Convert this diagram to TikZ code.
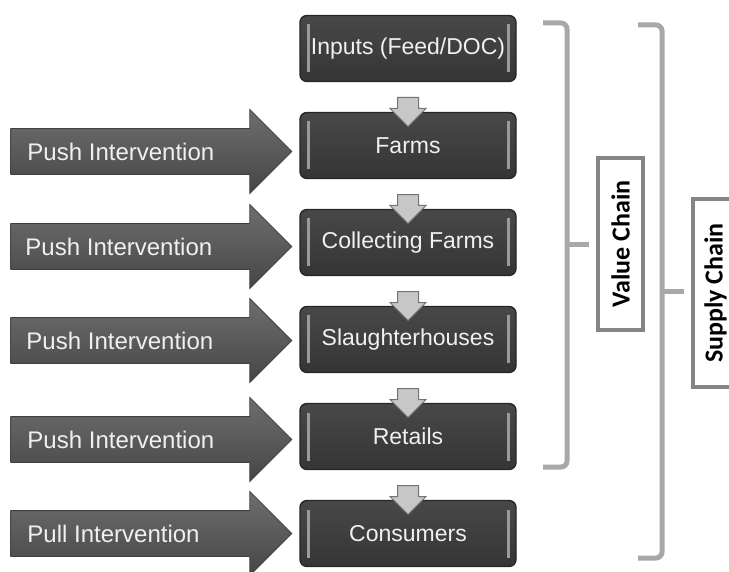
\documentclass[tikz,border=0pt]{standalone}
\usepackage{fontspec}
\setmainfont{Liberation Sans}
\newfontfamily\chainfont{Carlito}
\usepackage{tikz}
\usetikzlibrary{arrows}
\usetikzlibrary{positioning}
\usetikzlibrary{shapes.arrows}
\definecolor{boxtop}{HTML}{484848}
\definecolor{boxbottom}{HTML}{353535}
\definecolor{bargray}{HTML}{9A9A9A}
\definecolor{arrowtop}{HTML}{6E6E6E}
\definecolor{arrowbottom}{HTML}{464646}
\definecolor{bracegray}{HTML}{A8A8A8}
\definecolor{framegray}{HTML}{858585}
\tikzstyle{every node}+=[inner sep=0pt]
\tikzstyle{block} = [rectangle, draw=black!85, line width=1.4pt, rounded corners=7pt, top color=boxtop, bottom color=boxbottom, text=white!94!black, font=\fontsize{23}{26}\selectfont, minimum width=216pt, minimum height=66pt, node distance=97pt,
  path picture={
    \draw[bargray, line width=3pt] ([xshift=8pt,yshift=-9pt]path picture bounding box.north west) -- ([xshift=8pt,yshift=9pt]path picture bounding box.south west);
    \draw[bargray, line width=3pt] ([xshift=-8pt,yshift=-9pt]path picture bounding box.north east) -- ([xshift=-8pt,yshift=9pt]path picture bounding box.south east);
  }]
\tikzstyle{push} = [single arrow, draw=black!75, line width=0.8pt, top color=arrowtop, bottom color=arrowbottom, minimum height=281pt, inner xsep=0pt, inner ysep=22.5pt, single arrow head extend=19pt, node distance=7pt]
\tikzstyle{pushtext} = [anchor=west, text=white!94!black, font=\fontsize{24}{28}\selectfont]
\tikzstyle{flow} = [single arrow, rotate=-90, draw=black!55, line width=1pt, fill=black!22, minimum height=29pt, inner xsep=0pt, inner ysep=10pt, single arrow head extend=7.5pt]
\tikzstyle{chain} = [rectangle, draw=framegray, line width=4pt, fill=white, rotate=90, minimum height=45pt, font=\chainfont\bfseries\fontsize{26}{30}\selectfont]
\tikzstyle{bracket} = [draw=bracegray, line width=5pt, rounded corners=6pt]

\begin{document}
\begin{tikzpicture}[auto]
            \useasboundingbox (0pt,0pt) rectangle (729pt,-572pt);
            % Place nodes
            \node [block] at (408pt,-48.5pt) (n0) {Inputs (Feed/DOC)};
            \node [block, below of=n0] (n1) {Farms};
            \node [block, below of=n1] (n2) {Collecting Farms};
            \node [block, below of=n2] (n3) {Slaughterhouses};
            \node [block, below of=n3] (n4) {Retails};
            \node [block, below of=n4] (n5) {Consumers};
            % Interventions
            \node [push, left=of n1, yshift=-6pt] (p1) {};
            \node [pushtext, right=17pt of p1.west] (t1) {Push Intervention};
            \node [push, left=of n2, yshift=-4pt] (p2) {};
            \node [pushtext, right=15pt of p2.west] (t2) {Push Intervention};
            \node [push, left=of n3, yshift=-1pt] (p3) {};
            \node [pushtext, right=16pt of p3.west] (t3) {Push Intervention};
            \node [push, left=of n4, yshift=-3pt] (p4) {};
            \node [pushtext, right=17pt of p4.west] (t4) {Push Intervention};
            \node [push, left=of n5] (p5) {};
            \node [pushtext, right=17pt of p5.west] (t5) {Pull Intervention};
            % Chain labels
            \node [chain, minimum width=172pt] at (620.5pt,-244pt) (vc) {Value Chain};
            \node [chain, minimum width=188pt] at (715.5pt,-293pt) (sc) {Supply Chain};
            % Draw edges
            \path (n0) -- node [flow] {} (n1);
            \path (n1) -- node [flow] {} (n2);
            \path (n2) -- node [flow] {} (n3);
            \path (n3) -- node [flow] {} (n4);
            \path (n4) -- node [flow] {} (n5);
            % Brackets
            \draw [bracket] (543pt,-23pt) -| (567pt,-467pt) -- (543pt,-467pt);
            \draw [bracket] (567pt,-245pt) -- (589pt,-245pt);
            \draw [bracket] (638pt,-25pt) -| (662pt,-558pt) -- (638pt,-558pt);
            \draw [bracket] (662pt,-292pt) -- (684pt,-292pt);
          \end{tikzpicture}
\end{document}
